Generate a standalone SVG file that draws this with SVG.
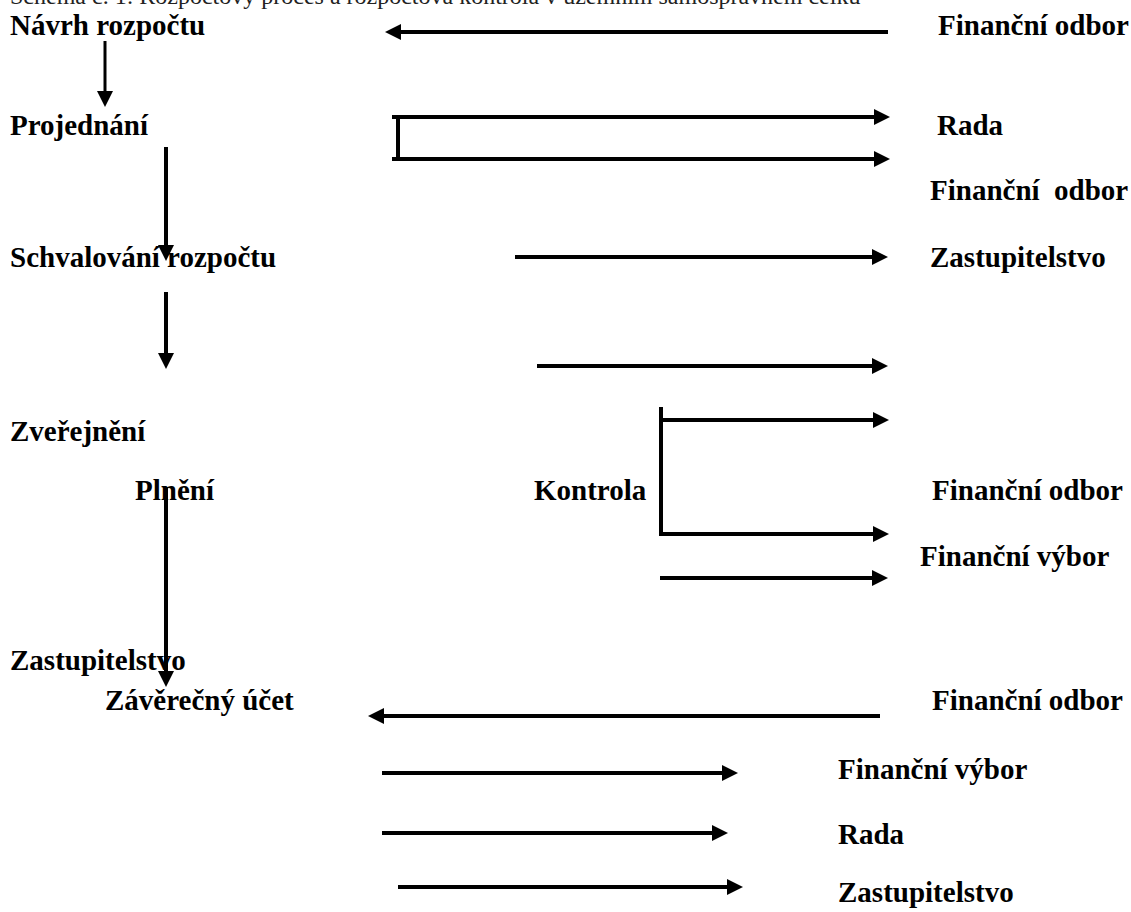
<svg xmlns="http://www.w3.org/2000/svg" width="1131" height="912" viewBox="0 0 1131 912">
<style>
.t{font-family:"Liberation Serif","Times New Roman",serif;font-weight:bold;font-size:29px;fill:#000}
.h{font-family:"Liberation Serif","Times New Roman",serif;font-size:24px;fill:#222}
.c{fill:none;stroke:#000;stroke-width:4;stroke-linecap:butt}
.c3{fill:none;stroke:#000;stroke-width:3}
</style>
<defs>
<marker id="ah" viewBox="0 0 16 16" refX="1" refY="8" markerWidth="16" markerHeight="16" markerUnits="userSpaceOnUse" orient="auto">
<path d="M0,0 L16,8 L0,16 z" fill="#000"/>
</marker>
</defs>
<rect width="1131" height="912" fill="#fff"/>
<text class="h" x="10" y="4">Schéma č. 1: Rozpočtový proces a rozpočtová kontrola v územním samosprávném celku</text>
<g id="connectors">
<path class="c" d="M888,32 H400" marker-end="url(#ah)"/>
<path class="c3" d="M105,41 V92" marker-end="url(#ah)"/>
<path class="c" d="M392,117 H875" marker-end="url(#ah)"/>
<path class="c" d="M398,117 V159"/>
<path class="c" d="M392,159 H875" marker-end="url(#ah)"/>
<path class="c" d="M166,147 V246" marker-end="url(#ah)"/>
<path class="c" d="M515,257 H873" marker-end="url(#ah)"/>
<path class="c" d="M166,292 V354" marker-end="url(#ah)"/>
<path class="c" d="M537,366 H873" marker-end="url(#ah)"/>
<path class="c" d="M661,407 V534 H874" marker-end="url(#ah)"/>
<path class="c" d="M661,420 H874" marker-end="url(#ah)"/>
<path class="c" d="M660,578 H873" marker-end="url(#ah)"/>
<path class="c" d="M166,487 V672" marker-end="url(#ah)"/>
<path class="c" d="M880,716 H383" marker-end="url(#ah)"/>
<path class="c" d="M382,773 H723" marker-end="url(#ah)"/>
<path class="c" d="M382,833 H713" marker-end="url(#ah)"/>
<path class="c" d="M398,887 H728" marker-end="url(#ah)"/>
</g>
<g id="n-navrh"><text class="t" x="10" y="35">Návrh rozpočtu</text></g>
<g id="n-fo1"><text class="t" x="938" y="35">Finanční odbor</text></g>
<g id="n-projednani"><text class="t" x="10" y="135">Projednání</text></g>
<g id="n-rada1"><text class="t" x="937" y="135">Rada</text></g>
<g id="n-fo2"><text class="t" x="930" y="200" xml:space="preserve">Finanční  odbor</text></g>
<g id="n-schvalovani"><text class="t" x="10" y="267">Schvalování rozpočtu</text></g>
<g id="n-zast1"><text class="t" x="930" y="267">Zastupitelstvo</text></g>
<g id="n-zverejneni"><text class="t" x="10" y="441">Zveřejnění</text></g>
<g id="n-plneni"><text class="t" x="135" y="500">Plnění</text></g>
<g id="n-kontrola"><text class="t" x="534" y="500">Kontrola</text></g>
<g id="n-fo3"><text class="t" x="932" y="500">Finanční odbor</text></g>
<g id="n-fv1"><text class="t" x="920" y="566">Finanční výbor</text></g>
<g id="n-zast2"><text class="t" x="10" y="670">Zastupitelstvo</text></g>
<g id="n-zaverecny"><text class="t" x="105" y="710">Závěrečný účet</text></g>
<g id="n-fo4"><text class="t" x="932" y="710">Finanční odbor</text></g>
<g id="n-fv2"><text class="t" x="838" y="779">Finanční výbor</text></g>
<g id="n-rada2"><text class="t" x="838" y="844">Rada</text></g>
<g id="n-zast3"><text class="t" x="838" y="902">Zastupitelstvo</text></g>
</svg>
